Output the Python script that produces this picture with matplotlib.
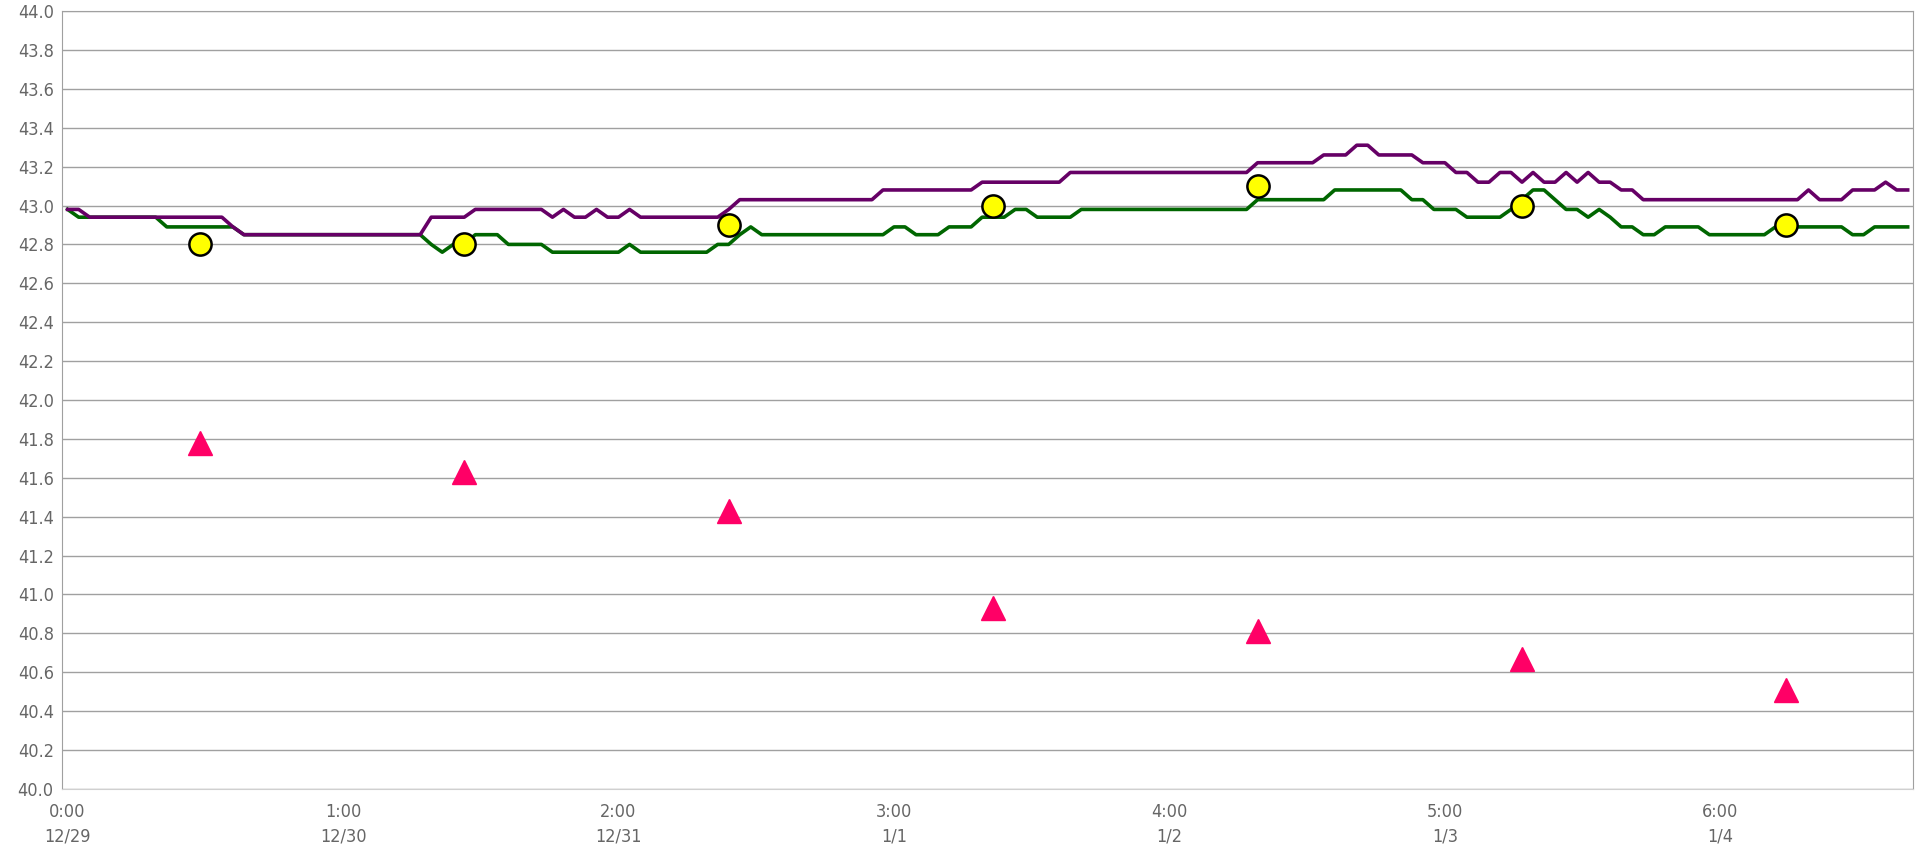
import numpy as np
import matplotlib
matplotlib.use("Agg")
import matplotlib.pyplot as plt

# hourly readings, one row per day (24 values), starting 12/29 0:00
purple_vals = [
    42.98, 42.98, 42.94, 42.94, 42.94, 42.94, 42.94, 42.94, 42.94, 42.94, 42.94, 42.94,
    42.94, 42.94, 42.94, 42.89, 42.85, 42.85, 42.85, 42.85, 42.85, 42.85, 42.85, 42.85,
    42.85, 42.85, 42.85, 42.85, 42.85, 42.85, 42.85, 42.85, 42.85, 42.94, 42.94, 42.94,
    42.94, 42.98, 42.98, 42.98, 42.98, 42.98, 42.98, 42.98, 42.94, 42.98, 42.94, 42.94,
    42.98, 42.94, 42.94, 42.98, 42.94, 42.94, 42.94, 42.94, 42.94, 42.94, 42.94, 42.94,
    42.98, 43.03, 43.03, 43.03, 43.03, 43.03, 43.03, 43.03, 43.03, 43.03, 43.03, 43.03,
    43.03, 43.03, 43.08, 43.08, 43.08, 43.08, 43.08, 43.08, 43.08, 43.08, 43.08, 43.12,
    43.12, 43.12, 43.12, 43.12, 43.12, 43.12, 43.12, 43.17, 43.17, 43.17, 43.17, 43.17,
    43.17, 43.17, 43.17, 43.17, 43.17, 43.17, 43.17, 43.17, 43.17, 43.17, 43.17, 43.17,
    43.22, 43.22, 43.22, 43.22, 43.22, 43.22, 43.26, 43.26, 43.26, 43.31, 43.31, 43.26,
    43.26, 43.26, 43.26, 43.22, 43.22, 43.22, 43.17, 43.17, 43.12, 43.12, 43.17, 43.17,
    43.12, 43.17, 43.12, 43.12, 43.17, 43.12, 43.17, 43.12, 43.12, 43.08, 43.08, 43.03,
    43.03, 43.03, 43.03, 43.03, 43.03, 43.03, 43.03, 43.03, 43.03, 43.03, 43.03, 43.03,
    43.03, 43.03, 43.08, 43.03, 43.03, 43.03, 43.08, 43.08, 43.08, 43.12, 43.08, 43.08,
]
green_vals = [
    42.98, 42.94, 42.94, 42.94, 42.94, 42.94, 42.94, 42.94, 42.94, 42.89, 42.89, 42.89,
    42.89, 42.89, 42.89, 42.89, 42.85, 42.85, 42.85, 42.85, 42.85, 42.85, 42.85, 42.85,
    42.85, 42.85, 42.85, 42.85, 42.85, 42.85, 42.85, 42.85, 42.85, 42.80, 42.76, 42.80,
    42.80, 42.85, 42.85, 42.85, 42.80, 42.80, 42.80, 42.80, 42.76, 42.76, 42.76, 42.76,
    42.76, 42.76, 42.76, 42.80, 42.76, 42.76, 42.76, 42.76, 42.76, 42.76, 42.76, 42.80,
    42.80, 42.85, 42.89, 42.85, 42.85, 42.85, 42.85, 42.85, 42.85, 42.85, 42.85, 42.85,
    42.85, 42.85, 42.85, 42.89, 42.89, 42.85, 42.85, 42.85, 42.89, 42.89, 42.89, 42.94,
    42.94, 42.94, 42.98, 42.98, 42.94, 42.94, 42.94, 42.94, 42.98, 42.98, 42.98, 42.98,
    42.98, 42.98, 42.98, 42.98, 42.98, 42.98, 42.98, 42.98, 42.98, 42.98, 42.98, 42.98,
    43.03, 43.03, 43.03, 43.03, 43.03, 43.03, 43.03, 43.08, 43.08, 43.08, 43.08, 43.08,
    43.08, 43.08, 43.03, 43.03, 42.98, 42.98, 42.98, 42.94, 42.94, 42.94, 42.94, 42.98,
    43.03, 43.08, 43.08, 43.03, 42.98, 42.98, 42.94, 42.98, 42.94, 42.89, 42.89, 42.85,
    42.85, 42.89, 42.89, 42.89, 42.89, 42.85, 42.85, 42.85, 42.85, 42.85, 42.85, 42.89,
    42.89, 42.89, 42.89, 42.89, 42.89, 42.89, 42.85, 42.85, 42.89, 42.89, 42.89, 42.89,
]

# daily spot values at 12:00 (hour index 12, 36, ...)
spot_hours = [12, 36, 60, 84, 108, 132, 156]
circle_vals = [42.8, 42.8, 42.9, 43.0, 43.1, 43.0, 42.9]
triangle_vals = [41.78, 41.63, 41.43, 40.93, 40.81, 40.67, 40.51]

# category axis labels (every 25th category)
tick_idx = [0, 25, 50, 75, 100, 125, 150]
tick_times = ["0:00", "1:00", "2:00", "3:00", "4:00", "5:00", "6:00"]
tick_dates = ["12/29", "12/30", "12/31", "1/1", "1/2", "1/3", "1/4"]


def main():
    plt.rcParams['font.family'] = ['DejaVu Sans']
    plt.rcParams['font.stretch'] = 'condensed'
    fig = plt.figure(figsize=(19.17, 8.49), dpi=100)
    ax = fig.add_axes([0.0324, 0.0707, 0.9656, 0.9163])

    x = np.arange(len(purple_vals))
    ax.plot(x, green_vals, color='#006600', lw=2.6, zorder=3)
    ax.plot(x, purple_vals, color='#660066', lw=2.6, zorder=4)
    ax.plot(spot_hours, circle_vals, 'o', ms=16, mfc='#FFFF00', mec='black',
            mew=1.8, zorder=5)
    ax.plot(spot_hours, triangle_vals, '^', ms=17, mfc='#FF0066',
            mec='#FF0066', zorder=5)

    ax.set_xlim(-0.5, len(purple_vals) - 0.5)
    ax.set_ylim(40.0, 44.0)
    ax.set_yticks(np.arange(40.0, 44.01, 0.2))
    ax.set_yticklabels([f"{v:.1f}" for v in np.arange(40.0, 44.01, 0.2)])
    ax.set_xticks(tick_idx)
    ax.set_xticklabels([f"{t}\n{d}" for t, d in zip(tick_times, tick_dates)],
                       linespacing=1.5)

    ax.yaxis.grid(True, color='#a0a0a0', lw=1.0)
    ax.set_axisbelow(True)
    ax.tick_params(length=0, labelsize=13, colors='#666666')
    ax.tick_params(axis='y', pad=6)
    ax.tick_params(axis='x', pad=10)
    for side in ['left', 'right', 'top']:
        ax.spines[side].set_color('#a0a0a0')
    ax.spines['bottom'].set_color('#d0d0d0')

    fig.savefig('out.png', dpi=100)


if __name__ == "__main__":
    main()
